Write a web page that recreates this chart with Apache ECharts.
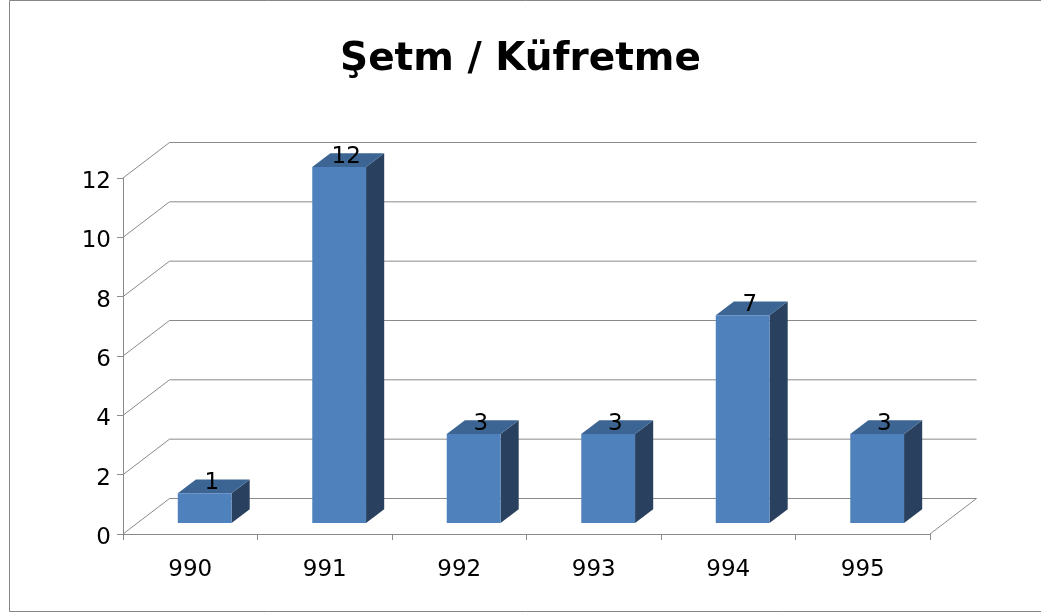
<!DOCTYPE html>
<html>
<head>
<meta charset="utf-8">
<script src="https://cdn.jsdelivr.net/npm/echarts@6/dist/echarts.min.js"></script>
<style>
  html, body { margin: 0; padding: 0; background: #fff; }
  #chart { width: 1041px; height: 613px; }
</style>
</head>
<body>
<div id="chart"></div>
<script>
// Chart data
const categories = ['990', '991', '992', '993', '994', '995'];
const values = [1, 12, 3, 3, 7, 3];
const yTickValues = [0, 2, 4, 6, 8, 10, 12];

// 3D look: depth vector of the plot box and bar geometry in band fractions
const DEPTH = [46.5, -35.5];
const BAR_FRONT = 0.31;
const BAR_BACK = 0.70;
const BAR_WIDTH = 0.40;

const FONT = '"DejaVu Sans", sans-serif';
const LINE_COLOR = '#8a8a8a';

const chart = echarts.init(document.getElementById('chart'), null, { renderer: 'canvas' });

// Back wall gridlines, left wall diagonals and floor outline
function renderWalls(params, api) {
  const cs = params.coordSys;
  const v = api.value(1);
  const p = api.coord([0, v]);
  const xl = cs.x;
  const xr = cs.x + cs.width;
  const y = p[1];
  const children = [
    { type: 'line', shape: { x1: xl, y1: y, x2: xl + DEPTH[0], y2: y + DEPTH[1] },
      style: { stroke: LINE_COLOR, lineWidth: 1 } },
    { type: 'line', shape: { x1: xl + DEPTH[0], y1: y + DEPTH[1], x2: xr + DEPTH[0], y2: y + DEPTH[1] },
      style: { stroke: LINE_COLOR, lineWidth: 1 } }
  ];
  if (v === 0) {
    children.push({ type: 'line', shape: { x1: xr, y1: y, x2: xr + DEPTH[0], y2: y + DEPTH[1] },
      style: { stroke: LINE_COLOR, lineWidth: 1 } });
  }
  return { type: 'group', children: children };
}

// 3D bar: front, top and side faces plus the value label
function renderBar(params, api) {
  const idx = api.value(0);
  const val = api.value(1);
  const base = api.coord([idx, 0]);
  const top = api.coord([idx, val]);
  const band = api.size([1, 0])[0];
  const w = band * BAR_WIDTH;
  const fx = DEPTH[0] * BAR_FRONT, fy = DEPTH[1] * BAR_FRONT;
  const dx = DEPTH[0] * (BAR_BACK - BAR_FRONT), dy = DEPTH[1] * (BAR_BACK - BAR_FRONT);
  const xl = base[0] - w / 2 + fx;
  const xr = base[0] + w / 2 + fx;
  const yb = base[1] + fy;
  const yt = top[1] + fy;
  return {
    type: 'group',
    children: [
      { type: 'polygon', shape: { points: [[xr, yt], [xr + dx, yt + dy], [xr + dx, yb + dy], [xr, yb]] },
        style: { fill: '#29415F' } },
      { type: 'polygon', shape: { points: [[xl, yt], [xr, yt], [xr + dx, yt + dy], [xl + dx, yt + dy]] },
        style: { fill: '#3C6594' } },
      { type: 'rect', shape: { x: xl, y: yt, width: xr - xl, height: yb - yt },
        style: { fill: '#4F81BD' } },
      { type: 'text', x: (xl + xr) / 2 + dx / 2 - 2, y: yt + dy / 2 - 3,
        style: { text: String(val), fill: '#000', font: '23px ' + FONT,
                 align: 'center', verticalAlign: 'middle' } }
    ]
  };
}

chart.setOption({
  backgroundColor: '#ffffff',
  animation: false,
  title: {
    text: 'Şetm / Küfretme',
    left: 'center',
    top: 35,
    textStyle: { fontFamily: FONT, fontWeight: 'bold', fontSize: 39, color: '#000' }
  },
  graphic: [
    { type: 'rect', shape: { x: 9.5, y: 0.5, width: 1040, height: 611 },
      style: { fill: 'none', stroke: '#868686', lineWidth: 1 }, z: 0 }
  ],
  grid: { left: 123, right: 111, top: 178, bottom: 79 },
  xAxis: {
    type: 'category',
    data: categories,
    boundaryGap: true,
    axisLine: { show: true, lineStyle: { color: LINE_COLOR, width: 1 } },
    axisTick: { show: true, length: 6, alignWithLabel: false, lineStyle: { color: LINE_COLOR } },
    axisLabel: { color: '#000', fontFamily: FONT, fontSize: 23, margin: 25 },
    splitLine: { show: false }
  },
  yAxis: {
    type: 'value',
    min: 0,
    max: 12,
    interval: 2,
    axisLine: { show: true, lineStyle: { color: LINE_COLOR, width: 1 } },
    axisTick: { show: true, length: 6, lineStyle: { color: LINE_COLOR } },
    axisLabel: {
      color: '#000', fontFamily: FONT, fontSize: 23, margin: 12,
      formatter: '{v|{value}}',
      rich: { v: { color: '#000', fontFamily: FONT, fontSize: 23, padding: [8, 0, 0, 0] } }
    },
    splitLine: { show: false }
  },
  series: [
    {
      type: 'custom',
      name: 'walls',
      renderItem: renderWalls,
      data: yTickValues.map(v => [0, v]),
      encode: { x: 0, y: 1 },
      silent: true,
      z: 1
    },
    {
      type: 'custom',
      name: 'Şetm / Küfretme',
      renderItem: renderBar,
      data: values.map((v, i) => [i, v]),
      encode: { x: 0, y: 1 },
      z: 2
    }
  ]
});
</script>
</body>
</html>
